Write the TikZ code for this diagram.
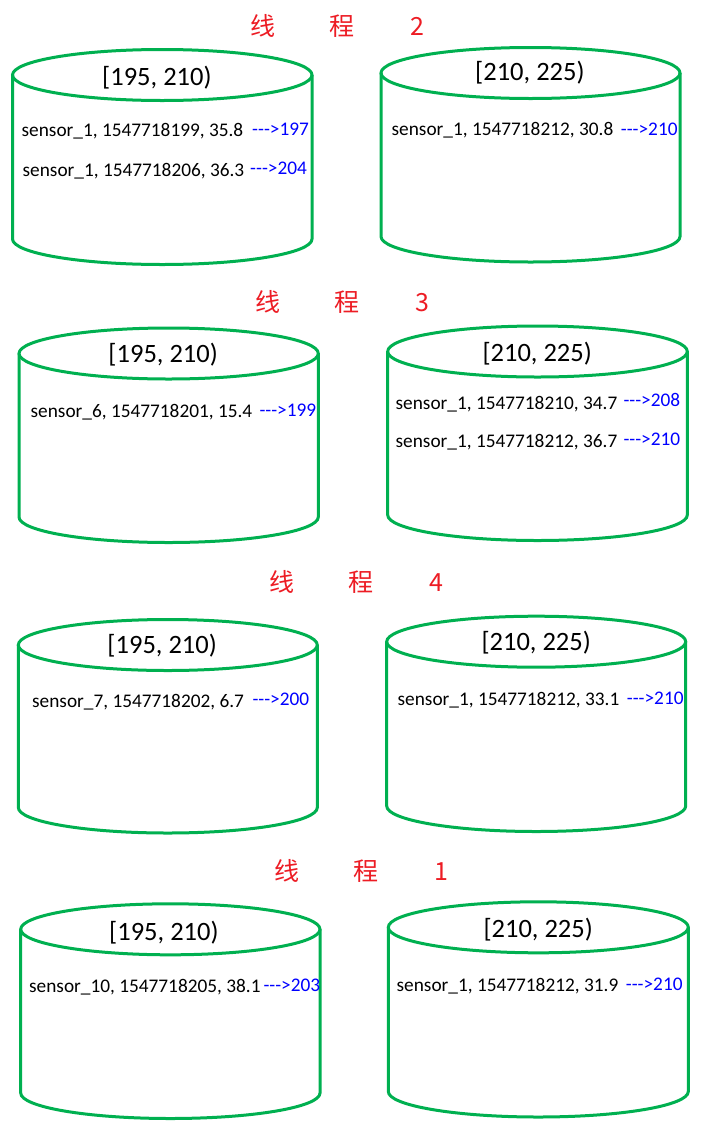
\documentclass[tikz,border=0pt]{standalone}
\usepackage{fontspec}
\setmainfont{Carlito}[Ligatures=TeXOff]
\newfontfamily\cjkfont{Noto Sans CJK SC}[Ligatures=TeXOff]
\definecolor{cylgreen}{RGB}{0,176,80}
\definecolor{titlered}{RGB}{237,28,36}
\definecolor{arrowblue}{RGB}{0,0,255}
\tikzset{
  cyl/.style={draw=cylgreen, line width=3bp},
  rangelabel/.style={anchor=base west, inner sep=0pt, font=\fontsize{26.5bp}{30bp}\selectfont},
  reading/.style={anchor=base west, inner sep=0pt, font=\fontsize{19.3bp}{23bp}\selectfont},
  pointer/.style={reading, text=arrowblue},
  threadtitle/.style={anchor=base west, inner sep=0pt, text=titlered, font=\cjkfont\fontsize{25bp}{30bp}\selectfont},
}
\newcommand\drum[4]{% left x, right x, top-centre y, bottom-centre y
  \pgfmathsetmacro\drumcx{(#1+#2)/2}
  \pgfmathsetmacro\drumrx{(#2-#1)/2}
  \draw[cyl] (\drumcx,#3) ellipse [x radius=\drumrx bp, y radius=25.5bp];
  \draw[cyl] (#1,#3) -- (#1,#4) arc [start angle=180, end angle=360, x radius=\drumrx bp, y radius=25.5bp] -- (#2,#3);
}
\begin{document}
\begin{tikzpicture}[x=1bp, y=-1bp]
\fill[white] (0,0) rectangle (709,1135);
\useasboundingbox (0,0) rectangle (709,1135);

% ---------- thread 2 ----------
\node[threadtitle] (title2) at (250.7,35) {线\hspace{54bp}程\hspace{56bp}2};
\drum{12.5}{312}{75}{239}
\drum{381}{680}{73}{236.5}
\node[rangelabel] (g1lrange) at (102,85) {[195, 210)};
\node[rangelabel] (g1rrange) at (475,80.7) {[210, 225)};
\node[reading] (g1la) at (21.5,136.7) {sensor\_1, 1547718199, 35.8};
\node[pointer] (g1lap) at (252,135) {--->197};
\node[reading] (g1lb) at (22.5,176) {sensor\_1, 1547718206, 36.3};
\node[pointer] (g1lbp) at (250,174) {--->204};
\node[reading] (g1ra) at (391.5,135) {sensor\_1, 1547718212, 30.8};
\node[pointer] (g1rap) at (620.7,135) {--->210};

% ---------- thread 3 ----------
\node[threadtitle] (title3) at (255.7,311.7) {线\hspace{54bp}程\hspace{56bp}3};
\drum{19}{318.3}{353.5}{517}
\drum{387.7}{687.3}{351.5}{515}
\node[rangelabel] (g2lrange) at (108.3,362.7) {[195, 210)};
\node[rangelabel] (g2rrange) at (482.3,361) {[210, 225)};
\node[reading] (g2la) at (30.5,417) {sensor\_6, 1547718201, 15.4};
\node[pointer] (g2lap) at (259.3,416) {--->199};
\node[reading] (g2ra) at (395.5,409) {sensor\_1, 1547718210, 34.7};
\node[pointer] (g2rap) at (623.3,406.7) {--->208};
\node[reading] (g2rb) at (395.5,447.7) {sensor\_1, 1547718212, 36.7};
\node[pointer] (g2rbp) at (623.3,445) {--->210};

% ---------- thread 4 ----------
\node[threadtitle] (title4) at (269,591.7) {线\hspace{54bp}程\hspace{56bp}4};
\drum{18.3}{317.3}{645}{807.5}
\drum{386.7}{685.7}{641.7}{806}
\node[rangelabel] (g3lrange) at (107.3,653.3) {[195, 210)};
\node[rangelabel] (g3rrange) at (481.3,650.7) {[210, 225)};
\node[reading] (g3la) at (32,707.3) {sensor\_7, 1547718202, 6.7};
\node[pointer] (g3lap) at (252.3,705) {--->200};
\node[reading] (g3ra) at (397.5,705) {sensor\_1, 1547718212, 33.1};
\node[pointer] (g3rap) at (626.7,704) {--->210};

% ---------- thread 1 ----------
\node[threadtitle] (title1) at (274,880.7) {线\hspace{54bp}程\hspace{56bp}1};
\drum{20.7}{320}{929.3}{1093}
\drum{388.3}{688.3}{927.3}{1091.5}
\node[rangelabel] (g4lrange) at (109,940.7) {[195, 210)};
\node[rangelabel] (g4rrange) at (483.3,937.3) {[210, 225)};
\node[reading] (g4la) at (29,992.3) {sensor\_10, 1547718205, 38.1};
\node[pointer] (g4lap) at (263.3,991.7) {--->203};
\node[reading] (g4ra) at (396.5,991.7) {sensor\_1, 1547718212, 31.9};
\node[pointer] (g4rap) at (625.7,990) {--->210};
\end{tikzpicture}
\end{document}
